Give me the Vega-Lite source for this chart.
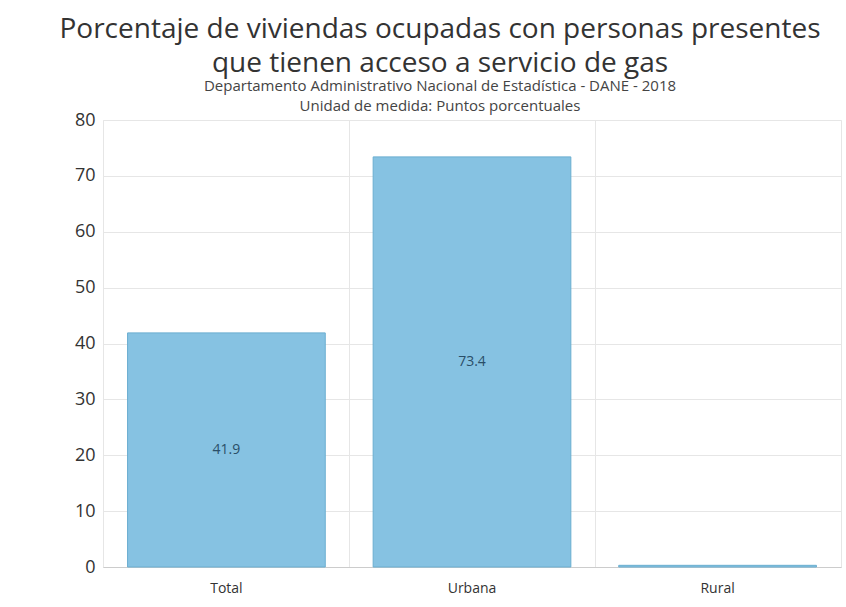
{
  "$schema": "https://vega.github.io/schema/vega-lite/v6.json",
  "width": 738,
  "height": 447,
  "autosize": {"type": "none"},
  "padding": {"left": 103, "top": 120, "right": 5, "bottom": 40},
  "background": "white",
  "title": {
    "text": ["Porcentaje de viviendas ocupadas con personas presentes", "que tienen acceso a servicio de gas"],
    "subtitle": ["Departamento Administrativo Nacional de Estadística - DANE - 2018", "Unidad de medida: Puntos porcentuales"],
    "anchor": "middle",
    "dx": -32,
    "font": "Open Sans",
    "fontSize": 28,
    "fontWeight": "normal",
    "color": "#333333",
    "lineHeight": 34,
    "subtitleFont": "Open Sans",
    "subtitleFontSize": 15,
    "subtitleColor": "#444444",
    "subtitleLineHeight": 20,
    "subtitlePadding": 1,
    "offset": -3
  },
  "data": {
    "values": [
      {"zona": "Total", "valor": 41.9, "etiqueta": "41.9"},
      {"zona": "Urbana", "valor": 73.4, "etiqueta": "73.4"},
      {"zona": "Rural", "valor": 0.3, "etiqueta": ""}
    ]
  },
  "config": {
    "view": {"stroke": "#e6e6e6"},
    "axis": {"labelFont": "Open Sans", "labelColor": "#333333"}
  },
  "encoding": {
    "x": {
      "field": "zona",
      "type": "nominal",
      "sort": ["Total", "Urbana", "Rural"],
      "scale": {"paddingInner": 0.195, "paddingOuter": 0.1},
      "axis": {
        "title": null,
        "labelAngle": 0,
        "labelFontSize": 14,
        "labelPadding": 14,
        "ticks": false,
        "domain": true,
        "domainColor": "#cccccc",
        "grid": true,
        "gridColor": "#e6e6e6",
        "bandPosition": -0.12
      }
    }
  },
  "layer": [
    {
      "mark": {"type": "bar", "color": "#86c2e2", "stroke": "#6aaed0", "strokeWidth": 1},
      "encoding": {
        "y": {
          "field": "valor",
          "type": "quantitative",
          "scale": {"domain": [0, 80]},
          "axis": {
            "title": null,
            "tickCount": 8,
            "labelFontSize": 18,
            "labelPadding": 8,
            "ticks": false,
            "domain": false,
            "gridColor": "#e6e6e6"
          }
        }
      }
    },
    {
      "mark": {"type": "text", "fontSize": 14, "font": "Open Sans", "color": "#2a4e68", "baseline": "middle"},
      "encoding": {
        "y": {"field": "valor", "type": "quantitative", "scale": {"domain": [0, 160]}, "axis": null},
        "text": {"field": "etiqueta"}
      }
    }
  ],
  "resolve": {"scale": {"y": "independent"}}
}
